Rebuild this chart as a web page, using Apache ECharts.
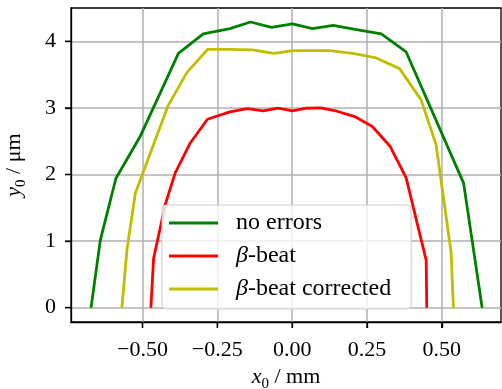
<!DOCTYPE html>
<html>
<head>
<meta charset="utf-8">
<script src="https://cdn.jsdelivr.net/npm/echarts@6/dist/echarts.min.js"></script>
<style>
  html, body { margin: 0; padding: 0; background: #fff; }
  #chart { width: 502px; height: 389px; }
</style>
</head>
<body>
<div id="chart"></div>
<script>
// Aperture boundaries: horizontal position x0 (mm) vs vertical amplitude y0 (µm)
const noErrorsX = [-0.672, -0.641, -0.589, -0.508, -0.380, -0.297, -0.208, -0.139, -0.069, 0.001, 0.068, 0.137, 0.210, 0.298, 0.381, 0.573, 0.635];
const noErrorsY = [0.00, 1.015, 1.94, 2.57, 3.82, 4.11, 4.19, 4.29, 4.21, 4.26, 4.19, 4.24, 4.18, 4.11, 3.84, 1.87, 0.00];

const betaBeatX = [-0.472, -0.463, -0.424, -0.391, -0.341, -0.283, -0.208, -0.150, -0.097, -0.047, 0.001, 0.048, 0.095, 0.150, 0.209, 0.268, 0.328, 0.381, 0.448, 0.450];
const betaBeatY = [0.00, 0.74, 1.55, 2.02, 2.47, 2.83, 2.94, 2.99, 2.955, 2.995, 2.955, 2.995, 3.00, 2.95, 2.87, 2.72, 2.42, 1.95, 0.71, 0.00];

const correctedX = [-0.569, -0.552, -0.524, -0.415, -0.352, -0.282, -0.210, -0.133, -0.060, 0.003, 0.070, 0.126, 0.203, 0.281, 0.359, 0.431, 0.481, 0.531, 0.539];
const correctedY = [0.00, 0.87, 1.72, 3.03, 3.53, 3.88, 3.88, 3.87, 3.82, 3.86, 3.86, 3.86, 3.82, 3.75, 3.59, 3.12, 2.45, 0.84, 0.00];

const seriesNames = ['no errors', 'β-beat', 'β-beat corrected'];
const xTicks = [-0.5, -0.25, 0, 0.25, 0.5];
const yTicks = [0, 1, 2, 3, 4];

const X_MIN = -0.739, X_MAX = 0.698;
const Y_MIN = -0.2145, Y_MAX = 4.5;

const zip = (xs, ys) => xs.map((x, i) => [x, ys[i]]);

const FONT = '"Liberation Serif", "DejaVu Serif", serif';

function fmtX(v) {
  const a = Math.abs(v).toFixed(2);
  return (v < -1e-9 ? '\u2212' : '') + a;
}

const chart = echarts.init(document.getElementById('chart'), null, { renderer: 'canvas' });

const lineSeries = (name, data, color) => ({
  name: name,
  type: 'line',
  data: data,
  showSymbol: false,
  symbol: 'none',
  color: color,
  lineStyle: { color: color, width: 2.8 },
  animation: false
});

const axisName = {
  color: '#000', fontSize: 22, fontFamily: FONT,
  rich: {
    i: { fontStyle: 'italic', fontSize: 22, lineHeight: 30, fontFamily: FONT },
    s: { fontSize: 15, lineHeight: 16, verticalAlign: 'bottom', fontFamily: FONT }
  }
};

const frameLine = { show: true, onZero: false, lineStyle: { color: '#000', width: 1.3 } };
const tickStyle = { show: true, inside: false, length: 6, lineStyle: { color: '#000', width: 1.3 } };

chart.setOption({
  animation: false,
  textStyle: { fontFamily: FONT },
  grid: {
    left: 71, right: 1, top: 8, bottom: 67,
    outerBoundsMode: 'none',
    containLabel: false,
    show: true, borderColor: '#000', borderWidth: 1.3
  },
  xAxis: {
    type: 'value',
    min: X_MIN, max: X_MAX,
    axisLine: frameLine,
    axisTick: Object.assign({ customValues: xTicks }, tickStyle),
    axisLabel: { customValues: xTicks, formatter: fmtX, color: '#000', fontSize: 22, fontFamily: FONT, margin: 17 },
    splitLine: { show: true, lineStyle: { color: '#b0b0b0', width: 1.5 } },
    name: '{i|x}{s|0} / mm',
    nameLocation: 'middle',
    nameGap: 38,
    nameTextStyle: axisName
  },
  yAxis: {
    type: 'value',
    min: Y_MIN, max: Y_MAX,
    axisLine: frameLine,
    axisTick: Object.assign({ customValues: yTicks }, tickStyle),
    axisLabel: { customValues: yTicks, color: '#000', fontSize: 22, fontFamily: FONT, margin: 15 },
    splitLine: { show: true, lineStyle: { color: '#b0b0b0', width: 1.5 } },
    name: '{i|y}{s|0} / μm',
    nameLocation: 'middle',
    nameRotate: 90,
    nameGap: 42,
    nameTextStyle: axisName
  },
  legend: {
    left: 162, top: 205,
    orient: 'vertical',
    data: seriesNames,
    icon: 'rect',
    itemWidth: 49,
    itemHeight: 3,
    itemGap: 7,
    padding: [5, 20, 7, 7],
    backgroundColor: 'rgba(255,255,255,0.8)',
    borderColor: '#cccccc',
    borderWidth: 1,
    borderRadius: 4,
    formatter: n => n.replace('β', '{g|β}'),
    textStyle: {
      color: '#000', fontSize: 24, fontFamily: FONT, lineHeight: 26,
      padding: [0, 0, 0, 13],
      rich: { g: { fontStyle: 'italic', fontSize: 24, fontFamily: FONT } }
    }
  },
  series: [
    lineSeries(seriesNames[0], zip(noErrorsX, noErrorsY), '#008000'),
    lineSeries(seriesNames[1], zip(betaBeatX, betaBeatY), '#ff0000'),
    lineSeries(seriesNames[2], zip(correctedX, correctedY), '#bfbf00')
  ]
});

// Outward tick marks on the frame, positioned through the chart's own scales
const TICK_LEN = 6;
const toPx = (x, y) => chart.convertToPixel({ gridIndex: 0 }, [x, y]);
const tickMarks = [];
xTicks.forEach(v => {
  const p = toPx(v, Y_MIN);
  tickMarks.push({
    type: 'line', z: 20, silent: true,
    shape: { x1: p[0], y1: p[1], x2: p[0], y2: p[1] + TICK_LEN },
    style: { stroke: '#000', lineWidth: 1.3 }
  });
});
yTicks.forEach(v => {
  const p = toPx(X_MIN, v);
  tickMarks.push({
    type: 'line', z: 20, silent: true,
    shape: { x1: p[0] - TICK_LEN, y1: p[1], x2: p[0], y2: p[1] },
    style: { stroke: '#000', lineWidth: 1.3 }
  });
});
chart.setOption({ graphic: tickMarks });
</script>
</body>
</html>
